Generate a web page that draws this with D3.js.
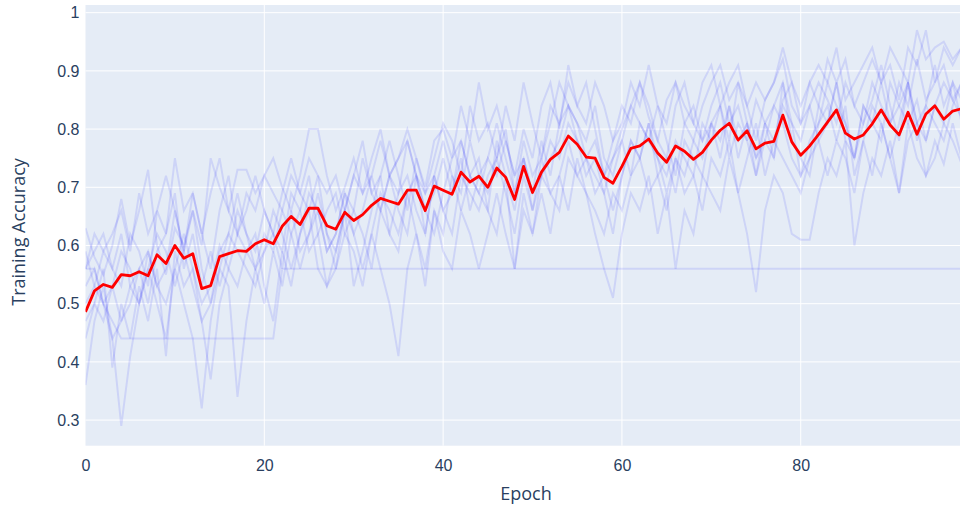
<!DOCTYPE html>
<html lang="en">
<head>
    <meta charset="UTF-8">
    <title>Training Accuracy per Epoch</title>
    <script src="https://d3js.org/d3.v7.min.js"></script>
    <style>
        body { margin: 0; background: #fff; font-family: "Open Sans", Verdana, Arial, sans-serif; }
        svg { display: block; }
        .tick-label { font-size: 16px; fill: #2a3f5f; }
        .axis-title { font-size: 18px; fill: #2a3f5f; }
        .run { fill: none; stroke: rgb(0, 0, 255); stroke-opacity: 0.1; stroke-width: 2; }
        .mean { fill: none; stroke: #f00; stroke-width: 2.8; stroke-linejoin: round; }
    </style>
</head>
<body>
    <svg id="chart"></svg>

    <script>
        // mean accuracy (red line), epochs 0..99
        const meanAcc = [
            0.486, 0.522, 0.533, 0.528, 0.55, 0.548, 0.555, 0.548, 0.584, 0.569,
            0.6, 0.578, 0.586, 0.526, 0.531, 0.581, 0.586, 0.591, 0.59, 0.603,
            0.61, 0.603, 0.633, 0.65, 0.636, 0.664, 0.664, 0.634, 0.628, 0.657,
            0.643, 0.653, 0.669, 0.681, 0.676, 0.671, 0.695, 0.695, 0.66, 0.702,
            0.695, 0.688, 0.726, 0.709, 0.719, 0.7, 0.733, 0.717, 0.679, 0.736,
            0.691, 0.726, 0.748, 0.76, 0.788, 0.774, 0.752, 0.75, 0.717, 0.707,
            0.736, 0.767, 0.771, 0.783, 0.759, 0.743, 0.771, 0.762, 0.748, 0.76,
            0.781, 0.798, 0.81, 0.781, 0.797, 0.766, 0.776, 0.779, 0.824, 0.778,
            0.755, 0.771, 0.791, 0.812, 0.833, 0.793, 0.783, 0.79, 0.809, 0.833,
            0.807, 0.79, 0.829, 0.791, 0.826, 0.84, 0.817, 0.831, 0.835, 0.83
        ];

        // individual runs (faint blue lines)
        const runA = [
            0.63,0.58,0.55,0.6,0.68,0.6,0.66,0.73,0.6,0.55,0.63,0.6,0.66,0.6,0.75,0.7,0.66,0.73,0.73,0.69,
            0.72,0.75,0.7,0.66,0.72,0.8,0.8,0.72,0.66,0.7,0.75,0.69,0.72,0.78,0.72,0.75,0.8,0.75,0.7,0.78,
            0.8,0.75,0.84,0.78,0.88,0.8,0.84,0.78,0.72,0.8,0.75,0.84,0.88,0.8,0.91,0.84,0.88,0.8,0.72,0.75,
            0.8,0.84,0.88,0.82,0.78,0.85,0.88,0.81,0.78,0.84,0.88,0.91,0.85,0.88,0.84,0.78,0.85,0.88,0.92,0.84,
            0.81,0.88,0.84,0.92,0.88,0.92,0.84,0.88,0.92,0.88,0.94,0.91,0.88,0.97,0.92,0.94,0.95,0.92,0.94,0.92
        ];
        const runB = [
            0.59,0.53,0.5,0.44,0.47,0.5,0.56,0.59,0.53,0.5,0.56,0.62,0.56,0.5,0.53,0.6,0.56,0.62,0.59,0.56,
            0.62,0.59,0.66,0.62,0.56,0.62,0.66,0.59,0.62,0.69,0.62,0.66,0.72,0.66,0.62,0.69,0.72,0.66,0.62,0.72,
            0.66,0.69,0.75,0.66,0.72,0.69,0.75,0.8,0.69,0.75,0.66,0.72,0.78,0.75,0.81,0.78,0.72,0.75,0.69,0.62,
            0.72,0.78,0.75,0.81,0.75,0.69,0.75,0.72,0.78,0.75,0.81,0.78,0.84,0.75,0.81,0.72,0.78,0.75,0.84,0.81,
            0.72,0.75,0.84,0.81,0.88,0.78,0.75,0.81,0.85,0.91,0.84,0.78,0.88,0.81,0.84,0.91,0.84,0.88,0.81,0.85
        ];
        const runC = [
            0.36,0.47,0.53,0.44,0.29,0.41,0.5,0.56,0.5,0.44,0.56,0.5,0.44,0.32,0.47,0.56,0.53,0.34,0.47,0.56,
            0.5,0.59,0.53,0.62,0.66,0.59,0.62,0.53,0.56,0.62,0.59,0.53,0.62,0.56,0.5,0.41,0.56,0.62,0.53,0.66,
            0.59,0.56,0.66,0.62,0.56,0.62,0.69,0.62,0.56,0.66,0.62,0.69,0.62,0.72,0.66,0.75,0.69,0.62,0.56,0.51,
            0.62,0.69,0.66,0.72,0.62,0.69,0.56,0.66,0.62,0.72,0.69,0.66,0.75,0.69,0.62,0.52,0.66,0.72,0.69,0.62,
            0.61,0.61,0.69,0.75,0.72,0.78,0.6,0.69,0.75,0.72,0.78,0.69,0.81,0.75,0.72,0.78,0.74,0.81,0.75,0.78
        ];
        const runD = [
            0.56,0.59,0.62,0.56,0.53,0.62,0.59,0.53,0.66,0.62,0.75,0.66,0.69,0.62,0.56,0.66,0.72,0.62,0.66,0.72,
            0.66,0.62,0.69,0.75,0.69,0.66,0.72,0.62,0.59,0.66,0.72,0.78,0.69,0.72,0.78,0.72,0.66,0.75,0.69,0.72,
            0.78,0.72,0.69,0.78,0.72,0.75,0.81,0.75,0.69,0.78,0.72,0.75,0.81,0.88,0.84,0.81,0.75,0.78,0.72,0.78,
            0.84,0.81,0.88,0.84,0.78,0.75,0.84,0.88,0.81,0.78,0.84,0.88,0.81,0.84,0.78,0.85,0.81,0.84,0.88,0.81,
            0.78,0.84,0.88,0.85,0.81,0.88,0.84,0.81,0.88,0.84,0.81,0.88,0.84,0.92,0.85,0.88,0.91,0.85,0.88,0.91
        ];
        const runE = [
            0.53,0.56,0.5,0.53,0.59,0.56,0.5,0.56,0.62,0.59,0.53,0.59,0.66,0.56,0.5,0.59,0.62,0.69,0.62,0.59,
            0.66,0.62,0.59,0.69,0.66,0.72,0.62,0.66,0.69,0.62,0.66,0.75,0.69,0.66,0.72,0.69,0.78,0.72,0.66,0.69,
            0.75,0.69,0.78,0.72,0.69,0.66,0.78,0.72,0.66,0.75,0.69,0.72,0.75,0.78,0.84,0.81,0.78,0.84,0.75,0.72,
            0.78,0.84,0.81,0.78,0.84,0.78,0.72,0.81,0.84,0.78,0.81,0.84,0.78,0.88,0.81,0.75,0.81,0.78,0.85,0.88,
            0.81,0.84,0.78,0.81,0.88,0.81,0.75,0.84,0.81,0.88,0.81,0.84,0.88,0.81,0.78,0.84,0.88,0.85,0.82,0.84
        ];
        const runF = [
            0.56,0.56,0.5,0.47,0.44,0.44,0.44,0.44,0.44,0.44,0.44,0.44,0.44,0.44,0.44,0.44,0.44,0.44,0.44,0.44,
            0.44,0.44,0.56,0.56,0.56,0.56,0.56,0.56,0.56,0.56,0.56,0.56,0.56,0.56,0.56,0.56,0.56,0.56,0.56,0.56,
            0.56,0.56,0.56,0.56,0.56,0.56,0.56,0.56,0.56,0.56,0.56,0.56,0.56,0.56,0.56,0.56,0.56,0.56,0.56,0.56,
            0.56,0.56,0.56,0.56,0.56,0.56,0.56,0.56,0.56,0.56,0.56,0.56,0.56,0.56,0.56,0.56,0.56,0.56,0.56,0.56,
            0.56,0.56,0.56,0.56,0.56,0.56,0.56,0.56,0.56,0.56,0.56,0.56,0.56,0.56,0.56,0.56,0.56,0.56,0.56,0.56
        ];
        const runG = [
            0.47,0.5,0.56,0.39,0.5,0.44,0.53,0.47,0.56,0.41,0.59,0.53,0.56,0.47,0.37,0.5,0.56,0.53,0.59,0.62,
            0.53,0.47,0.59,0.53,0.62,0.66,0.56,0.53,0.59,0.66,0.53,0.59,0.66,0.72,0.62,0.59,0.69,0.62,0.56,0.66,
            0.62,0.72,0.66,0.72,0.75,0.66,0.62,0.72,0.56,0.69,0.62,0.72,0.69,0.66,0.75,0.72,0.69,0.66,0.62,0.69,
            0.66,0.72,0.75,0.69,0.72,0.66,0.75,0.69,0.72,0.66,0.75,0.72,0.78,0.69,0.75,0.81,0.72,0.78,0.75,0.72,
            0.69,0.75,0.78,0.72,0.78,0.75,0.69,0.78,0.72,0.81,0.75,0.69,0.78,0.81,0.72,0.75,0.81,0.78,0.74,0.81
        ];
        const runH = [
            0.56,0.62,0.59,0.62,0.66,0.59,0.69,0.62,0.66,0.72,0.66,0.59,0.69,0.62,0.69,0.75,0.66,0.62,0.69,0.66,
            0.72,0.69,0.66,0.72,0.69,0.75,0.72,0.69,0.72,0.66,0.72,0.69,0.75,0.8,0.72,0.75,0.78,0.72,0.69,0.75,
            0.81,0.78,0.72,0.84,0.78,0.81,0.75,0.84,0.78,0.88,0.81,0.75,0.84,0.81,0.88,0.84,0.81,0.88,0.84,0.78,
            0.81,0.88,0.84,0.91,0.84,0.81,0.88,0.84,0.81,0.88,0.91,0.84,0.88,0.91,0.84,0.88,0.85,0.88,0.94,0.88,
            0.84,0.88,0.91,0.88,0.94,0.85,0.88,0.91,0.94,0.88,0.91,0.85,0.94,0.91,0.97,0.88,0.94,0.91,0.94,0.92
        ];
        const runI = [
            0.44,0.5,0.47,0.53,0.47,0.53,0.5,0.59,0.53,0.56,0.66,0.59,0.53,0.47,0.5,0.56,0.62,0.59,0.56,0.53,
            0.59,0.62,0.56,0.66,0.59,0.62,0.69,0.62,0.56,0.66,0.62,0.56,0.62,0.69,0.66,0.62,0.69,0.72,0.62,0.72,
            0.66,0.62,0.72,0.69,0.66,0.72,0.75,0.69,0.62,0.72,0.66,0.75,0.69,0.72,0.78,0.72,0.75,0.69,0.72,0.66,
            0.72,0.78,0.75,0.81,0.72,0.75,0.69,0.78,0.75,0.72,0.81,0.75,0.84,0.78,0.81,0.75,0.78,0.84,0.81,0.75,
            0.72,0.78,0.81,0.84,0.78,0.84,0.72,0.78,0.84,0.81,0.75,0.81,0.88,0.78,0.84,0.81,0.78,0.84,0.88,0.81
        ];
        const runJ = [
            0.5,0.53,0.59,0.56,0.62,0.53,0.56,0.5,0.59,0.62,0.69,0.56,0.62,0.53,0.59,0.53,0.59,0.66,0.62,0.56,
            0.59,0.66,0.62,0.56,0.62,0.69,0.66,0.59,0.62,0.69,0.66,0.62,0.56,0.66,0.72,0.66,0.62,0.72,0.66,0.62,
            0.69,0.75,0.78,0.72,0.69,0.75,0.72,0.78,0.72,0.75,0.69,0.78,0.72,0.81,0.84,0.78,0.75,0.72,0.69,0.75,
            0.78,0.72,0.81,0.78,0.75,0.72,0.78,0.75,0.72,0.81,0.78,0.84,0.75,0.81,0.78,0.72,0.81,0.75,0.88,0.78,
            0.75,0.72,0.81,0.88,0.84,0.81,0.75,0.84,0.81,0.78,0.88,0.84,0.81,0.85,0.78,0.84,0.81,0.88,0.85,0.84
        ];
        const runs = [runA, runB, runC, runD, runE, runF, runG, runH, runI, runJ];

        const xTicks = [0, 20, 40, 60, 80];
        const yTicks = [0.3, 0.4, 0.5, 0.6, 0.7, 0.8, 0.9, 1];

        const width = 960, height = 508;
        const plotLeft = 85.5, plotRight = 970.6, plotTop = 5, plotBottom = 445.7;

        const svg = d3.select("#chart").attr("width", width).attr("height", height);

        const x = d3.scaleLinear().domain([0, 99]).range([plotLeft, plotRight]);
        const y = d3.scaleLinear().domain([0.256, 1.0132]).range([plotBottom, plotTop]);

        svg.append("defs").append("clipPath").attr("id", "plot-clip")
            .append("rect")
            .attr("x", plotLeft).attr("y", plotTop)
            .attr("width", plotRight - plotLeft).attr("height", plotBottom - plotTop);

        svg.append("rect")
            .attr("x", plotLeft).attr("y", plotTop)
            .attr("width", plotRight - plotLeft).attr("height", plotBottom - plotTop)
            .attr("fill", "#e5ecf6");

        // gridlines
        const grid = svg.append("g");
        grid.selectAll(".xgrid")
            .data(xTicks.filter(d => d > 0))
            .join("line")
            .attr("x1", d => x(d)).attr("x2", d => x(d))
            .attr("y1", plotTop).attr("y2", plotBottom)
            .attr("stroke", "#fff").attr("stroke-width", 1);
        grid.selectAll(".ygrid")
            .data(yTicks)
            .join("line")
            .attr("x1", plotLeft).attr("x2", plotRight)
            .attr("y1", d => y(d)).attr("y2", d => y(d))
            .attr("stroke", "#fff").attr("stroke-width", 1);

        const line = d3.line()
            .x((d, i) => x(i))
            .y(d => y(d));

        const plot = svg.append("g").attr("clip-path", "url(#plot-clip)");

        plot.selectAll(".run")
            .data(runs)
            .join("path")
            .attr("class", "run")
            .attr("d", line);

        plot.append("path")
            .datum(meanAcc)
            .attr("class", "mean")
            .attr("d", line);

        // axes labels
        const xAxis = d3.axisBottom(x).tickValues(xTicks).tickSize(0).tickPadding(14);
        svg.append("g")
            .attr("transform", `translate(0,${plotBottom})`)
            .call(xAxis)
            .call(g => g.select(".domain").remove())
            .call(g => g.selectAll("text").attr("class", "tick-label").attr("font-family", null).attr("font-size", null));

        const yAxis = d3.axisLeft(y).tickValues(yTicks).tickSize(0).tickPadding(6)
            .tickFormat(d => String(+d.toFixed(1)));
        svg.append("g")
            .attr("transform", `translate(${plotLeft},0)`)
            .call(yAxis)
            .call(g => g.select(".domain").remove())
            .call(g => g.selectAll("text").attr("class", "tick-label").attr("font-family", null).attr("font-size", null));

        svg.append("text")
            .attr("class", "axis-title")
            .attr("x", 526).attr("y", 500)
            .attr("text-anchor", "middle")
            .text("Epoch");

        svg.append("text")
            .attr("class", "axis-title")
            .attr("transform", "translate(25,232) rotate(-90)")
            .attr("text-anchor", "middle")
            .text("Training Accuracy");
    </script>
</body>
</html>
